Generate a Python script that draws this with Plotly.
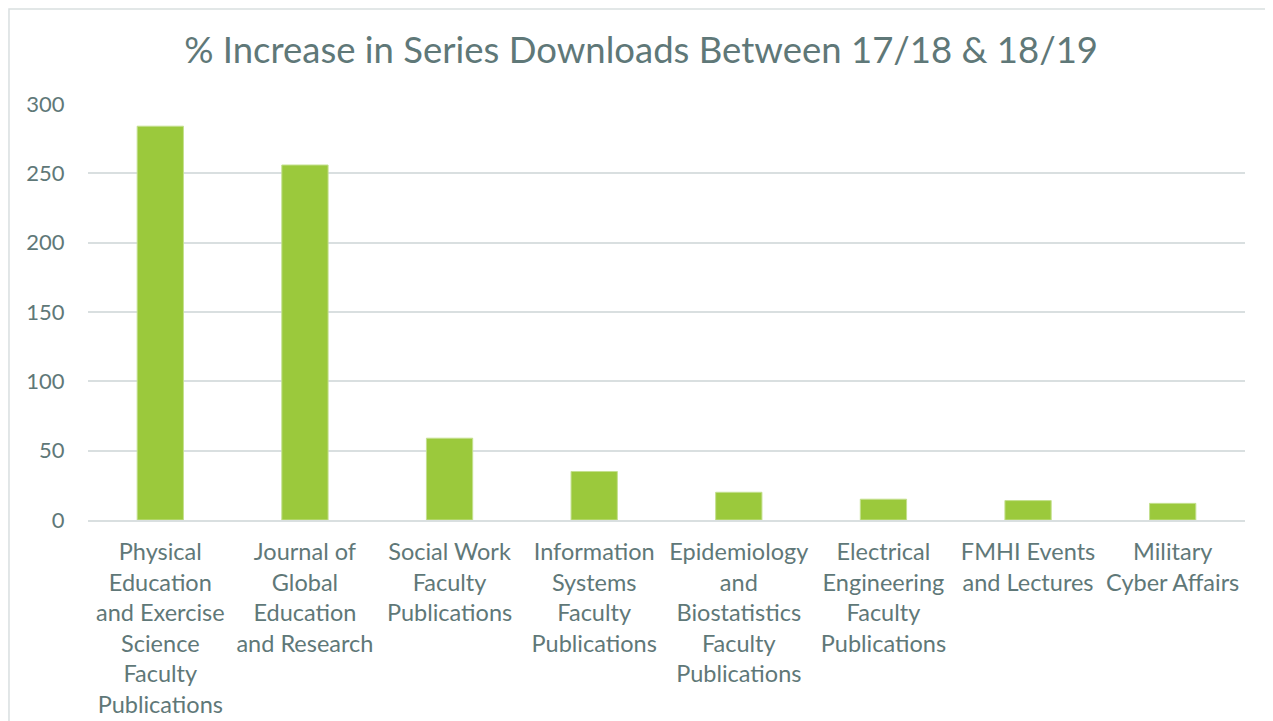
import plotly.graph_objects as go

categories = [
    "Physical<br>Education<br>and Exercise<br>Science<br>Faculty<br>Publications",
    "Journal of<br>Global<br>Education<br>and Research",
    "Social Work<br>Faculty<br>Publications",
    "Information<br>Systems<br>Faculty<br>Publications",
    "Epidemiology<br>and<br>Biostatistics<br>Faculty<br>Publications",
    "Electrical<br>Engineering<br>Faculty<br>Publications",
    "FMHI Events<br>and Lectures",
    "Military<br>Cyber Affairs",
]
values = [284, 256, 59, 35, 20, 15, 14, 12]
y_ticks = [0, 50, 100, 150, 200, 250, 300]

text_color = "#5f7878"
grid_color = "#d9dfe0"

fig = go.Figure(go.Bar(
    x=categories,
    y=values,
    marker=dict(color="#9bc93c", line=dict(color="#c4e08f", width=1)),
    width=0.32,
))

fig.update_layout(
    width=1273, height=721,
    paper_bgcolor="white", plot_bgcolor="white",
    margin=dict(l=80, r=36, t=96, b=209),
    font=dict(family="Lato", color=text_color, size=22),
    title=dict(
        text="% Increase in Series Downloads Between 17/18 & 18/19",
        x=0.4973, xref="container", xanchor="center",
        y=0.9417, yref="container", yanchor="middle",
        font=dict(family="Lato", size=36.5, color=text_color),
    ),
    showlegend=False,
    bargap=0.68,
)
fig.update_yaxes(
    range=[0, 300], tickvals=y_ticks, showgrid=True, gridcolor=grid_color, gridwidth=1.5,
    zeroline=False, ticks="outside", ticklen=18, tickcolor="rgba(0,0,0,0)",
    tickfont=dict(size=22, color=text_color), fixedrange=True,
)
fig.update_xaxes(
    showline=True, linecolor=grid_color, linewidth=1.5, ticks="outside", ticklen=10,
    tickcolor="rgba(0,0,0,0)", tickfont=dict(size=23.5, color=text_color), tickangle=0,
)
fig.add_shape(type="rect", xref="paper", yref="paper",
              x0=-0.0683, x1=1.2, y0=-0.8, y1=1.2284,
              line=dict(color="#d9dfe0", width=1.5), fillcolor="rgba(0,0,0,0)", layer="below")

fig.write_html("out.html")
